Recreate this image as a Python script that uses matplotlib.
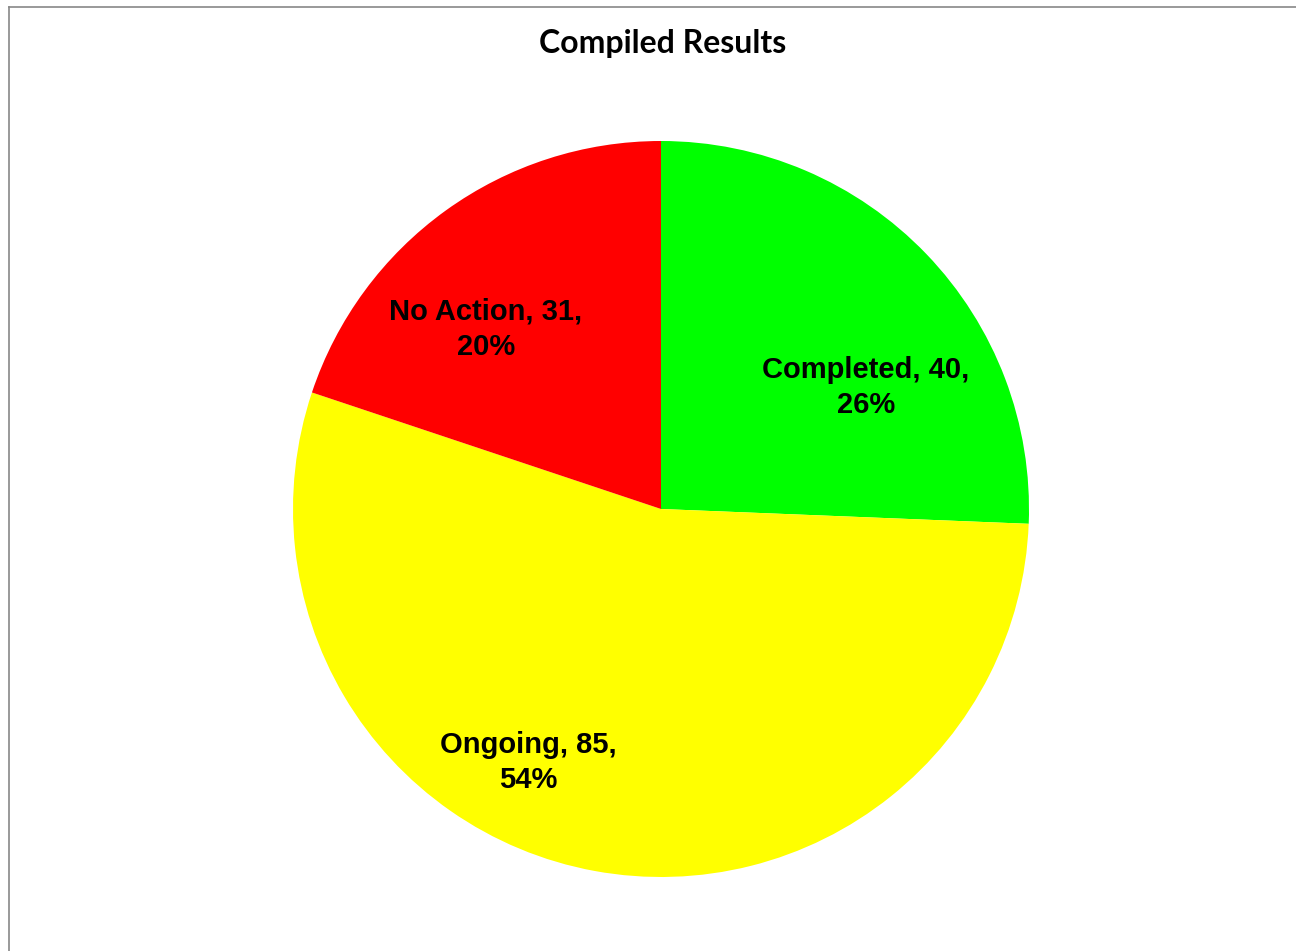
import numpy as np
import matplotlib
matplotlib.use('Agg')
import matplotlib.pyplot as plt
from matplotlib.lines import Line2D

# data
categories = ['Completed', 'Ongoing', 'No Action']
counts = [40, 85, 31]
colors = ['#00FF00', '#FFFF00', '#FF0000']
# label centres, in units of the pie radius (Excel puts them its own way)
label_pos = [(0.557, 0.329), (-0.361, -0.690), (-0.476, 0.489)]

W, H = 1296, 951
fig = plt.figure(figsize=(W / 100, H / 100), dpi=100)

# pie centre (661, 509) px, radius 368 px
cx, cy, r = 661, 509, 368
ax = fig.add_axes([(cx - r) / W, (H - cy - r) / H, 2 * r / W, 2 * r / H])
ax.pie(counts, colors=colors, startangle=90, counterclock=False,
       radius=1.0, wedgeprops=dict(linewidth=0))
ax.set_xlim(-1, 1)
ax.set_ylim(-1, 1)
ax.set_aspect('equal')
ax.axis('off')

total = sum(counts)
for name, n, (lx, ly) in zip(categories, counts, label_pos):
    pct = round(100 * n / total)
    ax.text(lx, ly, f'{name}, {n},\n{pct}%', ha='center', va='center',
            fontsize=21, fontweight='bold', family='Liberation Sans',
            linespacing=1.32)

fig.text(663 / W, 1 - 44 / H, 'Compiled Results', ha='center', va='center',
         fontsize=23, fontweight='bold', family='Lato')

# chart frame (left and top edges visible)
fig.add_artist(Line2D([8.5 / W, 8.5 / W], [0, 1 - 6.5 / H], transform=fig.transFigure,
                      color='#888888', linewidth=1.2))
fig.add_artist(Line2D([8.5 / W, 1], [1 - 6.5 / H, 1 - 6.5 / H], transform=fig.transFigure,
                      color='#888888', linewidth=1.2))

fig.savefig('out.png', dpi=100)
